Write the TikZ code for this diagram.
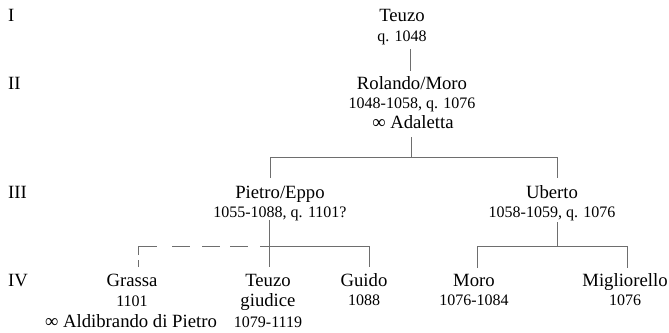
\documentclass[tikz,border=0pt]{standalone}
\usepackage{fontspec}
\setmainfont{Liberation Serif}
\definecolor{linegray}{HTML}{6E6E6E}
\tikzset{
  nm/.style={anchor=base, inner sep=0pt, font=\fontsize{18.7}{20}\selectfont},
  dt/.style={anchor=base, inner sep=0pt, font=\fontsize{16}{18}\selectfont},
  gen/.style={anchor=base west, inner sep=0pt, font=\fontsize{18.7}{20}\selectfont},
  link/.style={draw=linegray, line width=0.9pt},
  maybe/.style={link, dash pattern=on 7pt off 5pt on 28pt off 15pt on 18pt off 12pt on 18pt off 10pt on 18pt off 12pt},
}
\begin{document}
\begin{tikzpicture}[x=1pt, y=-1pt]
\useasboundingbox (0,0) rectangle (669,332);

% generation numerals
\node[gen] (g1) at (8,21)  {I};
\node[gen] (g2) at (8,89)  {II};
\node[gen] (g3) at (8,198) {III};
\node[gen] (g4) at (8,286) {IV};

% generation I and II
\node[nm] (teuzo)    at (402,21)  {Teuzo};
\node[dt] (teuzoD)   at (402,41)  {q. 1048};
\node[nm] (rolando)  at (412,89)  {Rolando/Moro};
\node[dt] (rolandoD) at (412,108) {1048-1058, q. 1076};
\node[nm] (adaletta) at (413,128) {∞ Adaletta};

% generation III
\node[nm] (pietro)  at (280,198) {Pietro/Eppo};
\node[dt] (pietroD) at (280,217) {1055-1088, q. 1101?};
\node[nm] (uberto)  at (552,198) {Uberto};
\node[dt] (ubertoD) at (552,217) {1058-1059, q. 1076};

% generation IV
\node[nm] (grassa)     at (132,286) {Grassa};
\node[dt] (grassaD)    at (132,306) {1101};
\node[nm] (aldibrando) at (131,327) {∞ Aldibrando di Pietro};
\node[nm] (teuzoG)     at (268,286) {Teuzo};
\node[nm] (giudice)    at (268,306) {giudice};
\node[dt] (teuzoGD)    at (268,327) {1079-1119};
\node[nm] (guido)      at (364,286) {Guido};
\node[dt] (guidoD)     at (364,305) {1088};
\node[nm] (moro)       at (474,286) {Moro};
\node[dt] (moroD)      at (474,305) {1076-1084};
\node[nm] (miglio)     at (625,286) {Migliorello};
\node[dt] (miglioD)    at (625,305) {1076};

% junction points of the tree
\coordinate (t1) at (410,49);
\coordinate (r1) at (410,71);
\coordinate (r2) at (411,137);
\coordinate (r3) at (411,157);
\coordinate (hL) at (270,157);
\coordinate (hR) at (557,157);
\coordinate (p1) at (270,178);
\coordinate (u1) at (557,178);
\coordinate (p2) at (269,220);
\coordinate (p3) at (269,267);
\coordinate (ps) at (260,246);
\coordinate (gu1) at (369,246);
\coordinate (gu2) at (369,267);
\coordinate (gc) at (138,246);
\coordinate (gr1) at (138,267);
\coordinate (u2) at (557,222);
\coordinate (u3) at (557,246);
\coordinate (mo1) at (477,246);
\coordinate (mo2) at (477,268);
\coordinate (mi1) at (627,246);
\coordinate (mi2) at (627,268);

% descent lines
\draw[link] (t1) -- (r1);
\draw[link] (r2) -- (r3);
\draw[link] (p1) -- (hL) -- (hR) -- (u1);
\draw[link] (p2) -- (p3);
\draw[link] (ps) -- (gu1) -- (gu2);
\draw[maybe] (gr1) -- (gc) -- (ps);
\draw[link] (u2) -- (u3);
\draw[link] (mo2) -- (mo1) -- (mi1) -- (mi2);
\end{tikzpicture}
\end{document}
